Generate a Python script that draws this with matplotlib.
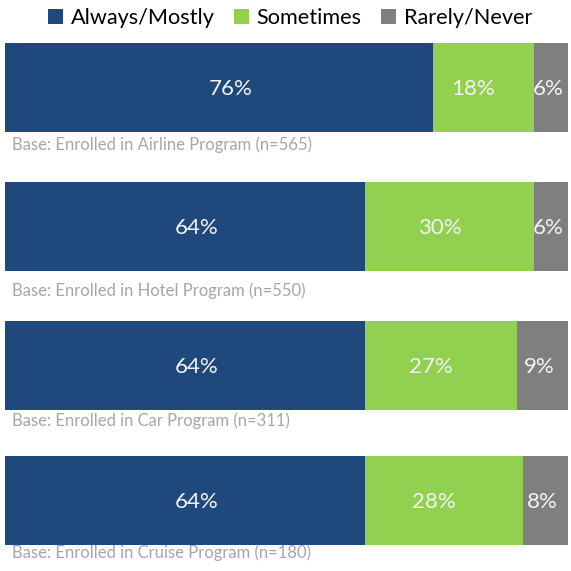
import matplotlib
matplotlib.use("Agg")
import matplotlib.pyplot as plt
from matplotlib.patches import Patch

plt.rcParams['font.family'] = ['Lato', 'DejaVu Sans']

programs = ["Airline", "Hotel", "Car", "Cruise"]
bases = ["Base: Enrolled in Airline Program (n=565)",
         "Base: Enrolled in Hotel Program (n=550)",
         "Base: Enrolled in Car Program (n=311)",
         "Base: Enrolled in Cruise Program (n=180)"]
always = [76, 64, 64, 64]
sometimes = [18, 30, 27, 28]
rarely = [6, 6, 9, 8]
series_names = ["Always/Mostly", "Sometimes", "Rarely/Never"]

colors = ["#1f497d", "#92d050", "#7f7f7f"]
label_shift = [2.0, -1.8, -0.6]
W = H = 571
fig = plt.figure(figsize=(W / 100, H / 100), dpi=100)
ax = fig.add_axes([5 / W, 0, 563 / W, 1])
ax.set_xlim(0, 100)
ax.set_ylim(H, 0)
ax.axis("off")

centers = [87, 226, 365, 500]
base_y = [145, 291, 421, 553]
bh = 89
left = [0] * 4
for vals, col, sh in zip([always, sometimes, rarely], colors, label_shift):
    ax.barh(centers, vals, left=left, height=bh, color=col, edgecolor="none")
    for c, v, l in zip(centers, vals, left):
        ax.text(l + v / 2 + sh, c + 2, f"{v}%", ha="center", va="center",
                color="#f4f4f4", fontsize=16)
    left = [a + b for a, b in zip(left, vals)]

for by, t in zip(base_y, bases):
    ax.text(1.2, by, t, ha="left", va="center", color="#a6a6a6", fontsize=12)

handles = [Patch(facecolor=c, edgecolor="none") for c in colors]
fig.legend(handles, series_names, loc="center", bbox_to_anchor=(0.508, 1 - 18 / H),
           ncol=3, frameon=False, fontsize=15.6, handlelength=0.7, handleheight=0.7,
           handletextpad=0.35, columnspacing=0.9, borderaxespad=0)

fig.savefig("out.png", dpi=100)
